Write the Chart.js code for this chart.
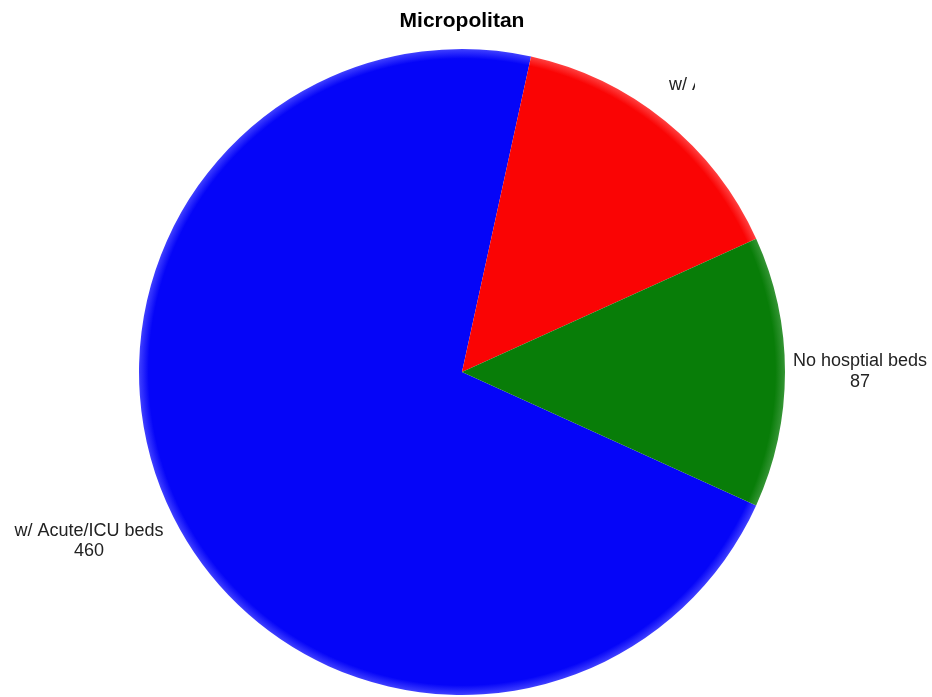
<!DOCTYPE html>
<html>
<head>
<meta charset="utf-8">
<script src="https://cdn.jsdelivr.net/npm/chart.js@4"></script>
<style>
html,body{margin:0;padding:0;background:#fff;}
#wrap{width:932px;height:697px;position:relative;}
</style>
</head>
<body>
<div id="wrap"><canvas id="c" width="932" height="697"></canvas></div>
<script>
const chartTitle = 'Micropolitan';
const categories = ['w/ Acute/ICU beds', 'w/ Acute beds', 'No hosptial beds'];
const values = [460, 95, 87];
const colors = ['#0505f8', '#fa0404', '#087d08'];
const rimColors = ['#4040ff', '#ff4040', '#359535'];

const labelPlugin = {
  id: 'labels',
  afterDraw(chart) {
    const ctx = chart.ctx;
    ctx.save();
    ctx.fillStyle = '#000';
    ctx.font = 'bold 21px "Liberation Sans", Arial, sans-serif';
    ctx.textAlign = 'center';
    ctx.textBaseline = 'middle';
    ctx.fillText(chartTitle, 462, 21);

    ctx.font = '18px "Liberation Sans", Arial, sans-serif';
    ctx.fillStyle = '#222';
    ctx.fillText(categories[0], 89, 531);
    ctx.fillText(String(values[0]), 89, 551);
    ctx.fillText(categories[2], 860, 361);
    ctx.fillText(String(values[2]), 860, 382);
    ctx.save();
    ctx.beginPath();
    ctx.rect(0, 0, 695, 697);
    ctx.clip();
    ctx.textAlign = 'left';
    ctx.fillText(categories[1], 669, 85);
    ctx.textAlign = 'center';
    const w = ctx.measureText(categories[1]).width;
    ctx.fillText(String(values[1]), 669 + w / 2, 105);
    ctx.restore();
    ctx.restore();
  }
};

function sliceColor(c) {
  const chart = c.chart;
  const area = chart.chartArea;
  if (!area) return colors[c.dataIndex];
  const cx = (area.left + area.right) / 2;
  const cy = (area.top + area.bottom) / 2;
  const r = Math.min(area.right - area.left, area.bottom - area.top) / 2;
  const g = chart.ctx.createRadialGradient(cx, cy, 0, cx, cy, r);
  g.addColorStop(0, colors[c.dataIndex]);
  g.addColorStop(0.97, colors[c.dataIndex]);
  g.addColorStop(1, rimColors[c.dataIndex]);
  return g;
}

new Chart(document.getElementById('c'), {
  type: 'pie',
  data: {
    labels: categories,
    datasets: [{
      data: values,
      backgroundColor: sliceColor,
      borderWidth: 0
    }]
  },
  options: {
    responsive: false,
    animation: false,
    rotation: 114.4,
    layout: { padding: { top: 49, bottom: 2, left: 0, right: 8 } },
    plugins: {
      legend: { display: false },
      title: { display: false },
      tooltip: { enabled: false }
    }
  },
  plugins: [labelPlugin]
});
</script>
</body>
</html>
